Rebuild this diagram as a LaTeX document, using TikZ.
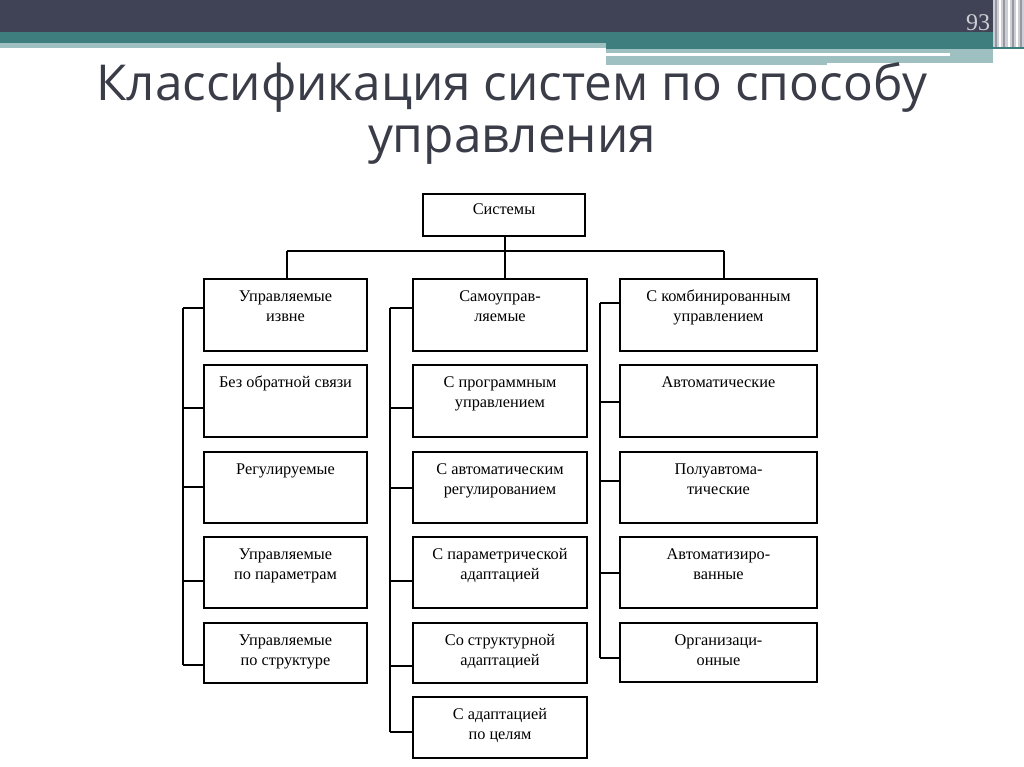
\documentclass[tikz,border=0pt]{standalone}
\usepackage{fontspec}
\setmainfont{Liberation Serif}
\newfontfamily\boxfont{Liberation Serif}
\newfontfamily\ttlfont{Open Sans}
\usetikzlibrary{fit}
\definecolor{hdark}{RGB}{64,66,86}
\definecolor{hteal}{RGB}{62,126,127}
\definecolor{hlight}{RGB}{158,192,192}
\definecolor{ttl}{RGB}{58,60,72}
\definecolor{stripe}{RGB}{205,207,212}
\definecolor{stripedk}{RGB}{150,152,162}
\tikzset{
  box/.style={draw=black, line width=1.25pt, inner sep=0pt, outer sep=0pt},
  txt/.style={font=\boxfont\fontsize{16.3}{20}\selectfont, align=center, inner sep=0pt, anchor=north},
  conn/.style={draw=black, line width=1.25pt},
  ttlstyle/.style={font=\ttlfont\fontsize{49.5}{52}\selectfont, text=ttl, inner sep=0pt, anchor=base},
}
\newcommand\mkbox[6]{%
  \node[box, fit={(#2,#3) (#4,#5)}] (#1) {};
  \node[txt] (#1t) at ([yshift=-8pt]#1.north) {\strut #6};
}
\begin{document}
\begin{tikzpicture}[x=1pt,y=-1pt]
\useasboundingbox (0,0) rectangle (1024,767);
\fill[white] (0,0) rectangle (1024,767);
% header
\fill[hdark] (0,0) rectangle (1024,32);
\fill[hteal] (0,32) rectangle (1024,43);
\fill[hteal] (606,43) rectangle (1024,49);
\fill[hlight] (0,43) rectangle (606,48);
\fill[hlight] (606,49) rectangle (993,65);
\fill[white] (606,53) rectangle (950,56);
\fill[white] (827,63) rectangle (1010,67);
\fill[stripe] (993,0) rectangle (1024,47);
\foreach \xx/\cc in {995/stripedk,999/white,1003/stripedk,1008/white,1012/stripedk,1016/white,1020/stripedk}
  \fill[\cc] (\xx,0) rectangle ++(1.6,47);
\node[font=\boxfont\fontsize{24}{24}\selectfont, text={rgb,255:red,205;green,205;blue,212}, anchor=base, inner sep=0pt] (pg) at (978,31) {93};
% title
\node[ttlstyle] (ttl1) at (512,101) {Классификация систем по способу};
\node[ttlstyle] (ttl2) at (512,153) {управления};
% top box
\node[box, fit={(423,194) (585,236)}] (sys) {};
\node[txt] (syst) at ([yshift=-6pt]sys.north) {\strut Системы};
% column 1
\mkbox{aa}{204}{279}{367}{351}{Управляемые\\извне}
\mkbox{ab}{204}{365}{367}{437}{Без обратной связи}
\mkbox{ac}{204}{452}{367}{523}{Регулируемые}
\mkbox{ad}{204}{537}{367}{608}{Управляемые\\по параметрам}
\mkbox{ae}{204}{623}{367}{683}{Управляемые\\по структуре}
% column 2
\mkbox{ba}{413}{279}{587}{351}{Самоуправ-\\ляемые}
\mkbox{bb}{413}{365}{587}{437}{С программным\\управлением}
\mkbox{bc}{413}{452}{587}{523}{С автоматическим\\регулированием}
\mkbox{bd}{413}{537}{587}{608}{С параметрической\\адаптацией}
\mkbox{be}{413}{623}{587}{683}{Со структурной\\адаптацией}
\mkbox{bf}{413}{697}{587}{758}{С адаптацией\\по целям}
% column 3
\mkbox{ca}{620}{279}{817}{351}{С комбинированным\\управлением}
\mkbox{cb}{620}{365}{817}{437}{Автоматические}
\mkbox{cc}{620}{452}{817}{523}{Полуавтома-\\тические}
\mkbox{cd}{620}{537}{817}{608}{Автоматизиро-\\ванные}
\mkbox{ce}{620}{623}{817}{682}{Организаци-\\онные}
% top connectors
\coordinate (hL) at (287,251);
\coordinate (hM) at (505,251);
\coordinate (hR) at (724,251);
\draw[conn] (sys.south -| hM) -- (hM);
\draw[conn] (hL) -- (hR);
\draw[conn] (hL) -- (hL |- aa.north);
\draw[conn] (hM) -- (hM |- ba.north);
\draw[conn] (hR) -- (hR |- ca.north);
% column 1 bus
\coordinate (ka) at (183,308);
\coordinate (kb) at (183,408);
\coordinate (kc) at (183,487);
\coordinate (kd) at (183,581);
\coordinate (ke) at (183,665);
\draw[conn] (ka) -- (ke);
\draw[conn] (ka) -- (ka -| aa.west);
\draw[conn] (kb) -- (kb -| ab.west);
\draw[conn] (kc) -- (kc -| ac.west);
\draw[conn] (kd) -- (kd -| ad.west);
\draw[conn] (ke) -- (ke -| ae.west);
% column 2 bus
\coordinate (la) at (390,308);
\coordinate (lb) at (390,408);
\coordinate (lc) at (390,488);
\coordinate (ld) at (390,581);
\coordinate (le) at (390,666);
\coordinate (lf) at (390,732);
\draw[conn] (la) -- (lf);
\draw[conn] (la) -- (la -| ba.west);
\draw[conn] (lb) -- (lb -| bb.west);
\draw[conn] (lc) -- (lc -| bc.west);
\draw[conn] (ld) -- (ld -| bd.west);
\draw[conn] (le) -- (le -| be.west);
\draw[conn] (lf) -- (lf -| bf.west);
% column 3 bus
\coordinate (ma) at (600,303);
\coordinate (mb) at (600,402);
\coordinate (mc) at (600,481);
\coordinate (md) at (600,573);
\coordinate (me) at (600,658);
\draw[conn] (ma) -- (me);
\draw[conn] (ma) -- (ma -| ca.west);
\draw[conn] (mb) -- (mb -| cb.west);
\draw[conn] (mc) -- (mc -| cc.west);
\draw[conn] (md) -- (md -| cd.west);
\draw[conn] (me) -- (me -| ce.west);
\end{tikzpicture}
\end{document}
